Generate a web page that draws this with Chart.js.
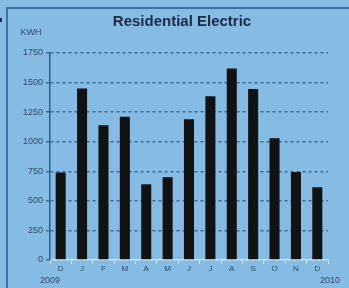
<!DOCTYPE html>
<html>
<head>
<meta charset="utf-8">
<script src="https://cdn.jsdelivr.net/npm/chart.js@4.4.0/dist/chart.umd.min.js"></script>
<style>
  html, body { margin: 0; padding: 0; background: #86bbe4; }
  #wrap { width: 349px; height: 288px; }
</style>
</head>
<body>
<div id="wrap"><canvas id="myChart" width="349" height="288"></canvas></div>
<script>
const months = ["D", "J", "F", "M", "A", "M", "J", "J", "A", "S", "O", "N", "D"];
const kwh = [740, 1450, 1140, 1210, 640, 700, 1190, 1385, 1620, 1445, 1030, 745, 615];
const yTicks = [0, 250, 500, 750, 1000, 1250, 1500, 1750];
const titleText = "Residential Electric";
const unitText = "KWH";
const startYear = "2009";
const endYear = "2010";

const fontFam = "'Liberation Sans', Arial, sans-serif";

// background, frame and the loose labels
const decor = {
    id: "decor",
    beforeDraw(chart) {
        const ctx = chart.ctx;
        ctx.save();
        ctx.fillStyle = "#86bbe4";
        ctx.fillRect(0, 0, chart.width, chart.height);
        ctx.strokeStyle = "#3f72a4";
        ctx.lineWidth = 2;
        ctx.beginPath();
        ctx.moveTo(7, 288);
        ctx.lineTo(7, 8);
        ctx.lineTo(349, 8);
        ctx.stroke();
        ctx.fillStyle = "#1d2f4c";
        ctx.fillRect(0, 18, 2, 4);
        ctx.restore();
    },
    afterDraw(chart) {
        const ctx = chart.ctx;
        ctx.save();
        ctx.fillStyle = "#1b2a45";
        ctx.font = "bold 15px " + fontFam;
        ctx.textAlign = "center";
        ctx.textBaseline = "middle";
        ctx.fillText(titleText, 182, 22);
        ctx.fillStyle = "#2e4968";
        ctx.font = "9px " + fontFam;
        ctx.fillText(unitText, 31, 33);
        ctx.fillText(startYear, 50, 281);
        ctx.fillText(endYear, 330, 281);
        ctx.restore();
    }
};

const ctx = document.getElementById("myChart").getContext("2d");
const chart = new Chart(ctx, {
    type: "bar",
    data: {
        labels: months,
        datasets: [
            {
                data: kwh,
                backgroundColor: "#111214",
                borderWidth: 0,
                barPercentage: 0.47,
                categoryPercentage: 1
            }
        ]
    },
    options: {
        responsive: false,
        animation: false,
        layout: { padding: { left: 0, right: 21, top: 53, bottom: 0 } },
        plugins: {
            legend: { display: false },
            tooltip: { enabled: false }
        },
        scales: {
            x: {
                afterFit: (scale) => { scale.height = 28; },
                grid: {
                    drawOnChartArea: false,
                    color: "#d6eaf7",
                    tickLength: 4,
                    lineWidth: 1
                },
                border: { color: "#d6eaf7", width: 1.5 },
                ticks: {
                    padding: 0,
                    color: "#2e4968",
                    font: { family: fontFam, size: 8 },
                    maxRotation: 0
                }
            },
            y: {
                min: 0,
                max: 1750,
                afterFit: (scale) => { scale.width = 50; },
                afterBuildTicks: (scale) => { scale.ticks = yTicks.map(v => ({ value: v })); },
                grid: {
                    color: "#3a6b9b",
                    lineWidth: 1.5,
                    tickLength: 4
                },
                border: { color: "#2c5c8c", width: 1.5, dash: [3, 3] },
                ticks: {
                    padding: 3,
                    color: "#2e4968",
                    font: { family: fontFam, size: 9 },
                    callback: (v) => String(v)
                }
            }
        }
    },
    plugins: [decor]
});
</script>
</body>
</html>
